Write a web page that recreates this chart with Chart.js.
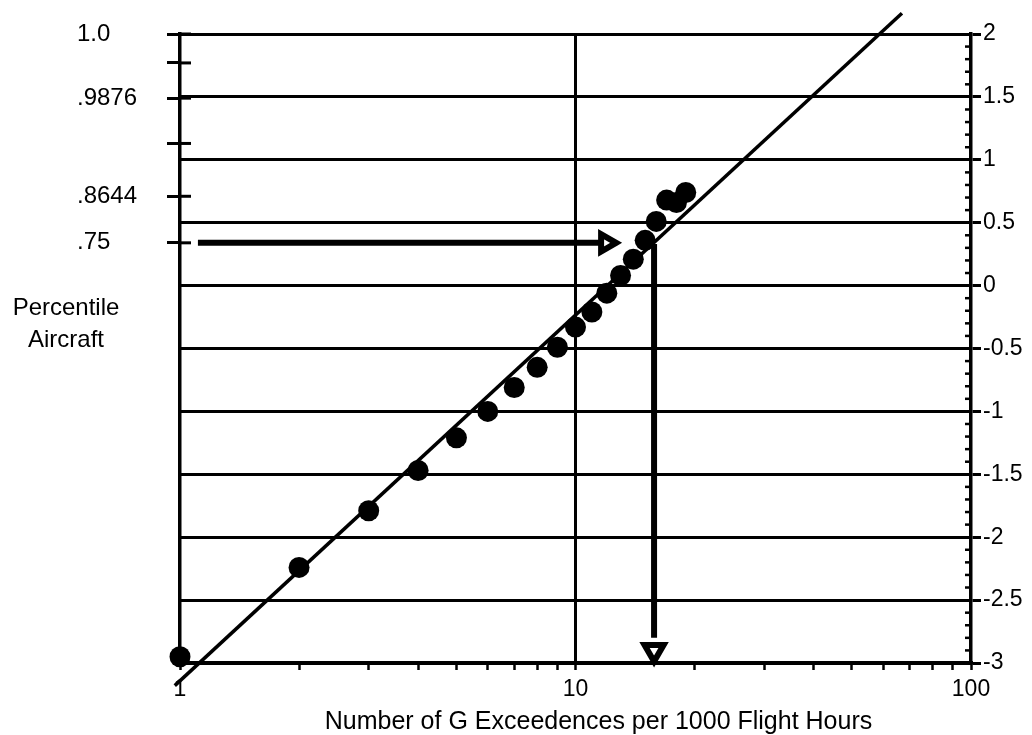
<!DOCTYPE html>
<html>
<head>
<meta charset="utf-8">
<script src="https://cdn.jsdelivr.net/npm/chart.js@4.4.1/dist/chart.umd.min.js"></script>
<style>
html,body{margin:0;padding:0;background:#fff;}
#wrap{width:1032px;height:735px;position:relative;}
</style>
</head>
<body>
<div id="wrap"><canvas id="c"></canvas></div>
<script>
// ---- data ----
const exceedences = [1,2,3,4,5,6,7,8,9,10,11,12,13,14,15,16,17,18,19];
const zScores = [-2.95,-2.24,-1.79,-1.47,-1.21,-1.00,-0.81,-0.65,-0.49,-0.33,-0.21,-0.06,0.08,0.21,0.36,0.51,0.68,0.66,0.74];
const fitX = [0.97, 66.9];
const fitY = [-3.18, 2.165];
const arrowHX = [1.11, 11.5];
const arrowHY = [0.34, 0.34];
const arrowHHead = [11.95, 0.34];
const arrowVX = [15.8, 15.8];
const arrowVY = [0.33, -2.8];
const arrowVHead = [15.8, -2.9];
const xTickValues = [1,2,3,4,5,6,7,8,9,10,20,30,40,50,60,70,80,90,100];
const xTickLabels = {1:'1', 10:'10', 100:'100'};
const leftTickValues = [2.0, 1.77, 1.49, 1.13, 0.71, 0.34];
const leftTickLabels = ['1.0', '', '.9876', '', '.8644', '.75'];
const yAxisTitle = ['Percentile', 'Aircraft'];
const xAxisTitle = 'Number of G Exceedences per 1000 Flight Hours';

const FONT = '"Liberation Sans", Arial, sans-serif';
const isMajorY = v => Math.round(v * 10) % 5 === 0;

const decor = {
  id: 'decor',
  afterDraw(chart) {
    const {ctx, scales} = chart;
    const y = scales.y, yL = scales.yL;
    ctx.save();
    ctx.strokeStyle = '#000';
    ctx.lineWidth = 2.5;
    y.ticks.forEach(t => {
      if (!isMajorY(t.value)) {
        const py = y.getPixelForValue(t.value);
        ctx.beginPath(); ctx.moveTo(y.left - 6, py); ctx.lineTo(y.left, py); ctx.stroke();
      }
    });
    ctx.lineWidth = 3;
    yL.ticks.forEach(t => {
      const py = yL.getPixelForValue(t.value);
      ctx.beginPath(); ctx.moveTo(yL.right, py); ctx.lineTo(yL.right + 11, py); ctx.stroke();
    });
    ctx.fillStyle = '#000';
    ctx.textAlign = 'center';
    ctx.textBaseline = 'middle';
    ctx.font = '24px ' + FONT;
    ctx.fillText(yAxisTitle[0], 66, 308);
    ctx.fillText(yAxisTitle[1], 66, 340);
    ctx.font = '25px ' + FONT;
    const ca = chart.chartArea;
    ctx.fillText(xAxisTitle, (ca.left + ca.right) / 2 + 23, 722);
    ctx.restore();
  }
};

new Chart(document.getElementById('c'), {
  type: 'scatter',
  data: {
    datasets: [
      {
        data: exceedences.map((x, i) => ({x, y: zScores[i]})),
        yAxisID: 'y', pointRadius: 10.5, pointBackgroundColor: '#000', pointBorderWidth: 0,
        showLine: false, clip: false
      },
      {
        data: [{x: arrowHHead[0], y: arrowHHead[1]}],
        yAxisID: 'y', pointStyle: 'triangle', pointRotation: 90, pointRadius: 10,
        pointBorderWidth: 6, pointBackgroundColor: '#fff', pointBorderColor: '#000', clip: false
      },
      {
        data: [{x: arrowVHead[0], y: arrowVHead[1]}],
        yAxisID: 'y', pointStyle: 'triangle', pointRotation: 180, pointRadius: 11,
        pointBorderWidth: 6, pointBackgroundColor: '#fff', pointBorderColor: '#000', clip: false
      },
      {
        data: arrowHX.map((x, i) => ({x, y: arrowHY[i]})),
        yAxisID: 'y', showLine: true, borderColor: '#000', borderWidth: 6, pointRadius: 0, clip: false
      },
      {
        data: arrowVX.map((x, i) => ({x, y: arrowVY[i]})),
        yAxisID: 'y', showLine: true, borderColor: '#000', borderWidth: 6, pointRadius: 0, clip: false
      },
      {
        data: fitX.map((x, i) => ({x, y: fitY[i]})),
        yAxisID: 'y', showLine: true, borderColor: '#000', borderWidth: 3.5, pointRadius: 0, clip: false
      }
    ]
  },
  options: {
    responsive: true,
    maintainAspectRatio: false,
    animation: false,
    events: [],
    layout: {padding: {top: 34, left: 77, right: 0, bottom: 0}, autoPadding: false},
    plugins: {legend: {display: false}, tooltip: {enabled: false}, title: {display: false}},
    scales: {
      x: {
        type: 'logarithmic', min: 1, max: 100, position: 'bottom',
        afterBuildTicks: s => { s.ticks = xTickValues.map(v => ({value: v, major: false})); },
        afterFit: s => { s.height = 72; },
        ticks: {
          autoSkip: false, maxRotation: 0, minRotation: 0, padding: 6, color: '#000',
          font: {family: FONT, size: 23},
          callback: v => (xTickLabels[v] !== undefined ? xTickLabels[v] : '')
        },
        grid: {
          color: c => (c.tick && c.tick.value === 10 ? '#000' : 'rgba(0,0,0,0)'),
          lineWidth: 3, tickColor: '#000', tickWidth: 2.5, tickLength: 7, drawTicks: true
        },
        border: {display: true, color: '#000', width: 3.5}
      },
      y: {
        type: 'linear', position: 'right', min: -3, max: 2,
        afterBuildTicks: s => { const t = []; for (let i = -30; i <= 20; i++) t.push({value: i / 10}); s.ticks = t; },
        afterFit: s => { s.width = 61; },
        ticks: {
          autoSkip: false, padding: 2, color: '#000', font: {family: FONT, size: 23},
          callback: v => { const i = Math.round(v * 10); return i % 5 === 0 ? String(i / 10) : ''; }
        },
        grid: {
          color: c => (c.tick && isMajorY(c.tick.value) ? '#000' : 'rgba(0,0,0,0)'),
          tickColor: c => (c.tick && isMajorY(c.tick.value) ? '#000' : 'rgba(0,0,0,0)'),
          lineWidth: 3, tickWidth: 3, tickLength: 10
        },
        border: {display: true, color: '#000', width: 3.5}
      },
      yL: {
        type: 'linear', position: 'left', min: -3, max: 2,
        afterBuildTicks: s => { s.ticks = leftTickValues.map(v => ({value: v})); },
        afterFit: s => { s.width = 103; },
        ticks: {
          autoSkip: false, crossAlign: 'far', padding: 2, color: '#000',
          font: {family: FONT, size: 24},
          callback: (v, i) => leftTickLabels[i]
        },
        grid: {drawOnChartArea: false, tickColor: '#000', tickWidth: 3, tickLength: 13},
        border: {display: true, color: '#000', width: 3.5}
      }
    }
  },
  plugins: [decor]
});
</script>
</body>
</html>
